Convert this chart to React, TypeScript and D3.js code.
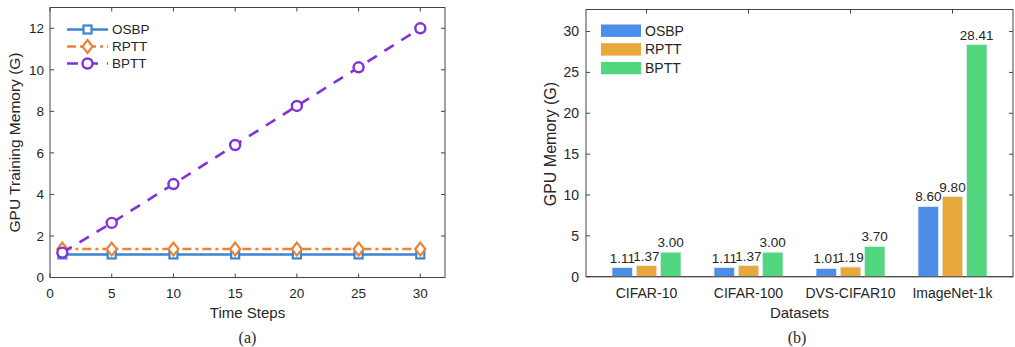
import * as d3 from "d3";

const timeSteps = [1, 5, 10, 15, 20, 25, 30];
const osbpLine = [1.11, 1.11, 1.11, 1.11, 1.11, 1.11, 1.11];
const rpttLine = [1.37, 1.37, 1.37, 1.37, 1.37, 1.37, 1.37];
const bpttLine = [1.2, 2.63, 4.5, 6.38, 8.26, 10.12, 12.0];

const datasets = ["CIFAR-10", "CIFAR-100", "DVS-CIFAR10", "ImageNet-1k"];
const osbpBars = [1.11, 1.11, 1.01, 8.6];
const rpttBars = [1.37, 1.37, 1.19, 9.8];
const bpttBars = [3.0, 3.0, 3.7, 28.41];

const seriesNames = ["OSBP", "RPTT", "BPTT"];
const lineColors = ["#3d84d0", "#ea8334", "#8133d8"];
const barColors = ["#4d8ee8", "#e8a83c", "#52d67e"];

const font = "'Liberation Sans', Arial, sans-serif";
const ink = "#262626";
const axisCol = "#444";

function Marker({ kind, x, y, color }: { kind: number; x: number; y: number; color: string }) {
  if (kind === 0)
    return <rect x={x - 4} y={y - 4} width={8} height={8} fill="#fff" stroke={color} strokeWidth={2.2} />;
  if (kind === 1)
    return (
      <path
        d={`M${x},${y - 6.5}L${x + 5},${y}L${x},${y + 6.5}L${x - 5},${y}Z`}
        fill="#fff"
        stroke={color}
        strokeWidth={2.2}
      />
    );
  return <circle cx={x} cy={y} r={5} fill="#fff" stroke={color} strokeWidth={2.4} />;
}

function LineChart() {
  const L = 50, R = 445, T = 7.5, B = 277.5;
  const x = d3.scaleLinear().domain([0, 32]).range([L, R]);
  const y = d3.scaleLinear().domain([0, 13]).range([B, T]);
  const xt = [0, 5, 10, 15, 20, 25, 30];
  const yt = [0, 2, 4, 6, 8, 10, 12];
  const series = [osbpLine, rpttLine, bpttLine];
  const dashes = ["none", "9 4 3 4", "11 9"];
  const line = d3
    .line<number>()
    .x((_, i) => x(timeSteps[i]))
    .y((d) => y(d));
  return (
    <g fontFamily={font} fill={ink}>
      <rect x={L} y={T} width={R - L} height={B - T} fill="#fff" stroke={axisCol} strokeWidth={1} />
      {xt.map((t) => (
        <g key={t}>
          <line x1={x(t)} x2={x(t)} y1={B} y2={B - 4} stroke={axisCol} />
          <line x1={x(t)} x2={x(t)} y1={T} y2={T + 4} stroke={axisCol} />
          <text x={x(t)} y={B + 20} textAnchor="middle" fontSize={13.5}>{t}</text>
        </g>
      ))}
      {yt.map((t) => (
        <g key={t}>
          <line x1={L} x2={L + 4} y1={y(t)} y2={y(t)} stroke={axisCol} />
          <line x1={R} x2={R - 4} y1={y(t)} y2={y(t)} stroke={axisCol} />
          <text x={L - 6} y={y(t)} dy="0.35em" textAnchor="end" fontSize={13.5}>{t}</text>
        </g>
      ))}
      {series.map((s, k) => (
        <g key={k}>
          <path d={line(s) ?? ""} fill="none" stroke={lineColors[k]} strokeWidth={2.6} strokeDasharray={dashes[k]} />
          {s.map((v, i) => (
            <Marker key={i} kind={k} x={x(timeSteps[i])} y={y(v)} color={lineColors[k]} />
          ))}
        </g>
      ))}
      {seriesNames.map((n, k) => {
        const ly = 29.5 + k * 17;
        return (
          <g key={n}>
            <line x1={67} x2={108} y1={ly} y2={ly} stroke={lineColors[k]} strokeWidth={2.6} strokeDasharray={dashes[k]} />
            <Marker kind={k} x={87.5} y={ly} color={lineColors[k]} />
            <text x={112} y={ly} dy="0.35em" fontSize={13.5}>{n}</text>
          </g>
        );
      })}
      <text x={(L + R) / 2} y={318} textAnchor="middle" fontSize={15}>Time Steps</text>
      <text
        transform={`translate(20,${(T + B) / 2}) rotate(-90)`}
        textAnchor="middle"
        fontSize={15.5}
      >
        GPU Training Memory (G)
      </text>
      <text x={(L + R) / 2} y={343} textAnchor="middle" fontSize={16} fontFamily="'Liberation Serif', 'Times New Roman', serif">
        (a)
      </text>
    </g>
  );
}

function BarChart() {
  const L = 586, R = 1013, T = 9.5, B = 276.7;
  const x = d3.scalePoint<string>().domain(datasets).range([L, R]).padding(0.593);
  const y = d3.scaleLinear().domain([0, 32.7]).range([B, T]);
  const yt = [0, 5, 10, 15, 20, 25, 30];
  const series = [osbpBars, rpttBars, bpttBars];
  const inner = d3.scaleBand<number>().domain([0, 1, 2]).range([-34.5, 34.5]).paddingInner(0.15);
  const bw = inner.bandwidth();
  return (
    <g fontFamily={font} fill={ink}>
      <rect x={L} y={T} width={R - L} height={B - T} fill="#fff" stroke={axisCol} strokeWidth={1} />
      {datasets.map((d) => (
        <g key={d}>
          <line x1={x(d)} x2={x(d)} y1={B} y2={B - 4} stroke={axisCol} />
          <line x1={x(d)} x2={x(d)} y1={T} y2={T + 4} stroke={axisCol} />
          <text x={x(d)} y={B + 21} textAnchor="middle" fontSize={14}>{d}</text>
        </g>
      ))}
      {yt.map((t) => (
        <g key={t}>
          <line x1={L} x2={L + 4} y1={y(t)} y2={y(t)} stroke={axisCol} />
          <line x1={R} x2={R - 4} y1={y(t)} y2={y(t)} stroke={axisCol} />
          <text x={L - 7} y={y(t)} dy="0.35em" textAnchor="end" fontSize={14}>{t}</text>
        </g>
      ))}
      {series.map((s, k) =>
        s.map((v, i) => {
          const bx = (x(datasets[i]) ?? 0) + (inner(k) ?? 0);
          return (
            <g key={`${k}-${i}`}>
              <rect
                x={bx}
                y={y(v)}
                width={bw}
                height={B - y(v)}
                fill={barColors[k]}
                stroke="#e4eef8"
                strokeWidth={0.8}
              />
              <text x={bx + bw / 2} y={y(v) - 5} textAnchor="middle" fontSize={13.5}>
                {v.toFixed(2)}
              </text>
            </g>
          );
        })
      )}
      <line x1={L} x2={R} y1={B} y2={B} stroke={axisCol} />
      {seriesNames.map((n, k) => {
        const ly = 30.7 + k * 18.7;
        return (
          <g key={n}>
            <rect x={601} y={ly - 6.2} width={40} height={12.4} fill={barColors[k]} />
            <text x={645} y={ly} dy="0.35em" fontSize={14}>{n}</text>
          </g>
        );
      })}
      <text x={(L + R) / 2} y={318} textAnchor="middle" fontSize={15}>Datasets</text>
      <text
        transform={`translate(556,${(T + B) / 2 + 1}) rotate(-90)`}
        textAnchor="middle"
        fontSize={16}
      >
        GPU Memory (G)
      </text>
      <text x={797} y={343} textAnchor="middle" fontSize={16} fontFamily="'Liberation Serif', 'Times New Roman', serif">
        (b)
      </text>
    </g>
  );
}

export default function App() {
  return (
    <svg
      width={1015}
      height={347}
      style={{ position: "absolute", left: 0, top: 0, background: "#fff" }}
    >
      <rect width={1015} height={347} fill="#fff" />
      <LineChart />
      <BarChart />
    </svg>
  );
}
